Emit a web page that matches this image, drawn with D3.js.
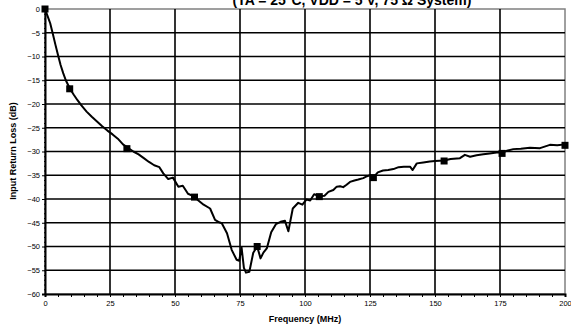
<!DOCTYPE html>
<html><head><meta charset="utf-8">
<script src="https://cdn.jsdelivr.net/npm/d3@7"></script>
<style>
html,body{margin:0;padding:0;background:#fff;}
svg{display:block;font-family:"Liberation Sans",Arial,sans-serif;}
</style></head>
<body>
<svg id="c" width="571" height="326"></svg>
<script>
const titleText = "(TA = 25°C, VDD = 5 V, 75 Ω System)";
const xTitle = "Frequency (MHz)";
const yTitle = "Input Return Loss (dB)";
const xTicks = [0,25,50,75,100,125,150,175,200];
const yTicks = [0,-5,-10,-15,-20,-25,-30,-35,-40,-45,-50,-55,-60];

const freq = [0,1,2,3,4,5,6,7,8,9.6,11,12.5,14,16,18,20,22,24,26,28,30,32,34,36,38,40,42,44,45.5,47.4,49.2,51.3,53,55,57.5,59,61,63.5,65.4,67,68,70,71.8,73.7,74.7,75.6,76.5,77.3,78.6,80.1,81.6,82.9,84,85.3,87,88.8,90.6,92.3,93.6,95.3,97.4,99,100.6,102,103.5,105.5,107.5,109,110.9,112.2,113.5,114.7,116,117.3,119,120.5,122.4,123.5,125,126.4,128,130,132,134,136,138,140.4,141.4,143,145.5,148,150,153.5,156,159.6,161.5,163.5,166,168.6,171,173.7,175.6,178,180.1,183,186.5,190.4,194.2,197,200];
const loss = [0,-1.5,-3,-5.2,-7.5,-9.7,-11.8,-13.5,-15,-16.8,-18,-19.2,-20.3,-21.6,-22.7,-23.7,-24.7,-25.6,-26.4,-27.3,-28.5,-29.3,-30,-30.6,-31.4,-32.2,-32.9,-33.3,-34.6,-35.8,-35.5,-37.4,-37.2,-38.9,-39.5,-40.3,-41.2,-42,-44.4,-44.9,-45.1,-47.2,-50.7,-52.8,-53,-50.2,-54.5,-55.5,-55.3,-51.3,-50,-52.5,-51.3,-50.4,-47,-45.3,-44.8,-44.6,-46.8,-42,-40.8,-41.2,-40.1,-40.3,-39,-39.4,-39.3,-38.5,-38.1,-37.4,-37.3,-37.5,-37,-36.4,-36.1,-35.9,-35.6,-35.3,-35,-35.4,-34.4,-34,-33.9,-33.7,-33.3,-33.2,-33.2,-33.9,-32.5,-32.3,-32.1,-32,-31.9,-31.6,-31.4,-30.7,-31.1,-30.8,-30.6,-30.4,-30.2,-30.2,-29.8,-29.5,-29.4,-29.2,-29.3,-28.6,-28.7,-28.5];
const markFreq = [0,9.5,31.5,57.5,81.6,105.5,126.3,153.5,175.8,200];
const markLoss = [0,-16.8,-29.4,-39.6,-50,-39.5,-35.5,-32,-30.4,-28.7];

const L=45, R=565, T=9, B=294;
const svg = d3.select("#c");
const x = d3.scaleLinear().domain([0,200]).range([L,R]);
const y = d3.scaleLinear().domain([-60,0]).range([B,T]);

// plot border (gray right/top)
svg.append("rect").attr("x",L).attr("y",T).attr("width",R-L).attr("height",B-T)
  .attr("fill","none").attr("stroke","#808080").attr("stroke-width",1.5);

// gridlines
svg.append("g").selectAll("line").data(yTicks.filter(d=>d!==-60 && d!==0)).join("line")
  .attr("x1",L).attr("x2",R).attr("y1",d=>y(d)).attr("y2",d=>y(d))
  .attr("stroke","#000").attr("stroke-width",1.6);
svg.append("g").selectAll("line").data(xTicks.filter(d=>d!==0 && d!==200)).join("line")
  .attr("y1",T).attr("y2",B).attr("x1",d=>x(d)).attr("x2",d=>x(d))
  .attr("stroke","#000").attr("stroke-width",1.6);

// axes
const yAxis = d3.axisLeft(y).tickValues(yTicks).tickSize(3).tickFormat(d3.format("d"));
const gy = svg.append("g").attr("transform",`translate(${L},0)`).call(yAxis);
const yMinor = d3.axisLeft(y).tickValues(d3.range(-60,1,1)).tickSize(2).tickFormat("");
svg.append("g").attr("transform",`translate(${L+1},0)`).call(yMinor).call(g=>g.select(".domain").remove());
const xAxis = d3.axisBottom(x).tickValues(xTicks).tickSize(3).tickFormat(d3.format("d"));
const gx = svg.append("g").attr("transform",`translate(0,${B})`).call(xAxis);
const xMinor = d3.axisBottom(x).tickValues(d3.range(0,201,5)).tickSize(3).tickFormat("");
svg.append("g").attr("transform",`translate(0,${B})`).call(xMinor).call(g=>g.select(".domain").remove());

svg.selectAll(".domain").attr("stroke","#000").attr("stroke-width",2);
svg.selectAll(".tick line").attr("stroke","#000").attr("stroke-width",1);
gy.selectAll("text").attr("font-size",7.5).attr("fill","#000").attr("x",-5).attr("font-family","Liberation Sans, Arial, sans-serif");
gx.selectAll("text").attr("font-size",7.5).attr("fill","#000").attr("y",7).attr("font-family","Liberation Sans, Arial, sans-serif");

// line
const line = d3.line().x(d=>x(d[0])).y(d=>y(d[1]));
svg.append("path").datum(freq.map((f,i)=>[f,loss[i]]))
  .attr("d",line).attr("fill","none").attr("stroke","#000").attr("stroke-width",2).attr("stroke-linejoin","round");

// markers
svg.append("g").selectAll("rect").data(markFreq.map((f,i)=>[f,markLoss[i]])).join("rect")
  .attr("x",d=>x(d[0])-3.5).attr("y",d=>y(d[1])-3.5).attr("width",7).attr("height",7).attr("fill","#000");

// titles
svg.append("text").attr("x",352).attr("y",5).attr("text-anchor","middle")
  .attr("font-size",14).attr("font-weight","bold").text(titleText);
svg.append("text").attr("x",305).attr("y",322).attr("text-anchor","middle")
  .attr("font-size",9).attr("font-weight","bold").text(xTitle);
svg.append("text").attr("transform","translate(16,151) rotate(-90)").attr("text-anchor","middle")
  .attr("font-size",9).attr("font-weight","bold").text(yTitle);
</script>
</body></html>
